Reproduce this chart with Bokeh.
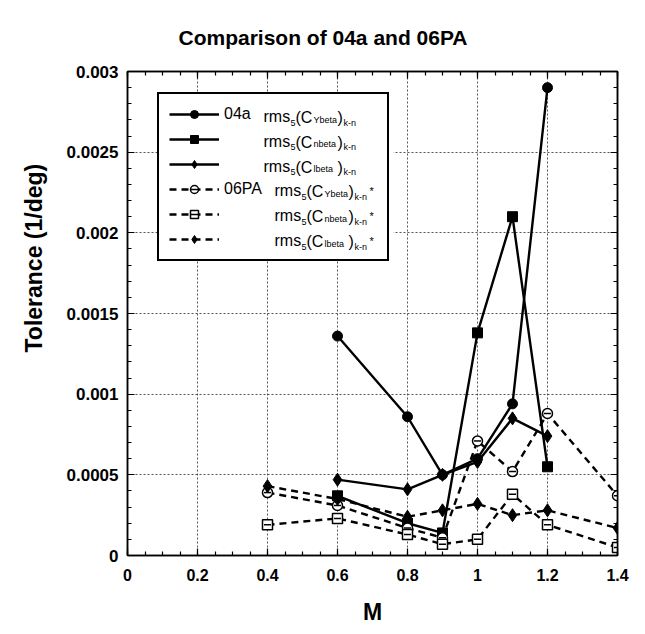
from bokeh.plotting import figure
from bokeh.models import (Range1d, FixedTicker, LinearAxis, Legend, LegendItem, Title,
                          ColumnDataSource, BoxAnnotation, CustomLabelingPolicy)
from bokeh.core.properties import value
from bokeh.embed import file_html
from bokeh.resources import INLINE

# ---------------- data ----------------
mach_04a = [0.6, 0.8, 0.9, 1.0, 1.1, 1.2]
ybeta_04a = [0.00136, 0.00086, 0.00050, 0.00060, 0.00094, 0.00290]
nbeta_04a = [0.00037, 0.00020, 0.00014, 0.00138, 0.00210, 0.00055]
lbeta_04a = [0.00047, 0.00041, 0.00050, 0.00058, 0.00085, 0.00074]

mach_06pa = [0.4, 0.6, 0.8, 0.9, 1.0, 1.1, 1.2, 1.4]
ybeta_06pa = [0.00039, 0.00031, 0.00017, 0.00011, 0.00071, 0.00052, 0.00088, 0.00037]
nbeta_06pa = [0.00019, 0.00023, 0.00013, 0.00007, 0.00010, 0.00038, 0.00019, 0.00005]
lbeta_06pa = [0.00043, 0.00035, 0.00024, 0.00028, 0.00032, 0.00025, 0.00028, 0.00017]

x_ticks = [0, 0.2, 0.4, 0.6, 0.8, 1.0, 1.2, 1.4]
x_tick_labels = ["0", "0.2", "0.4", "0.6", "0.8", "1", "1.2", "1.4"]
y_ticks = [0, 0.0005, 0.001, 0.0015, 0.002, 0.0025, 0.003]
y_tick_labels = ["0", "0.0005", "0.001", "0.0015", "0.002", "0.0025", "0.003"]

title_text = "Comparison  of 04a and 06PA"
x_label = "M"
y_label = "Tolerance  (1/deg)"
series_names = ["04a", "", "", "06PA", "", ""]
coef_subs = ["Ybeta", "nbeta", "lbeta", "Ybeta", "nbeta", "lbeta"]

# ---------------- layout ----------------
W, H = 645, 634
BL, BR, BT, BB = 127, 28, 71, 79
FW, FH = W - BL - BR, H - BT - BB
X0, X1, Y0, Y1 = 0.0, 1.4, 0.0, 0.003
FONT = "Liberation Sans"


def dx(px):
    return X0 + (px - BL) / FW * (X1 - X0)


def dy(py):
    return Y0 + (BT + FH - py) / FH * (Y1 - Y0)


p = figure(width=W, height=H, x_range=Range1d(X0, X1), y_range=Range1d(Y0, Y1),
           output_backend="svg", toolbar_location=None,
           min_border_left=BL, min_border_right=BR, min_border_top=BT, min_border_bottom=BB)
p.background_fill_color = "white"
p.border_fill_color = "white"
p.outline_line_color = "black"
p.outline_line_width = 1.5

x_minor = [round(i * 0.05, 4) for i in range(29)]
y_minor = [round(i * 0.0001, 5) for i in range(31)]
xt = FixedTicker(ticks=x_ticks, minor_ticks=x_minor)
yt = FixedTicker(ticks=y_ticks, minor_ticks=y_minor)

no_labels = CustomLabelingPolicy(code="""
const all = [...indices]
for (const i of all) indices.unset(i)
return indices
""")


def style_axis(ax, ticker, overrides, size=None):
    ax.ticker = ticker
    ax.axis_line_color = "black"
    ax.axis_line_width = 1.5
    ax.major_tick_in = 7
    ax.major_tick_out = 0
    ax.minor_tick_in = 4
    ax.minor_tick_out = 0
    ax.major_tick_line_width = 1.2
    ax.minor_tick_line_width = 1.2
    ax.major_tick_line_color = "black"
    ax.minor_tick_line_color = "black"
    if size:
        ax.major_label_overrides = overrides
        ax.major_label_text_font = FONT
        ax.major_label_text_font_style = "bold"
        ax.major_label_text_font_size = size
        ax.major_label_text_color = "black"
    else:
        ax.major_label_text_font_size = "0px"
        ax.major_label_standoff = 0
        ax.major_label_policy = no_labels


xo = {v: t for v, t in zip(x_ticks, x_tick_labels)}
yo = {v: t for v, t in zip(y_ticks, y_tick_labels)}
style_axis(p.xaxis[0], xt, xo, "16px")
style_axis(p.yaxis[0], yt, yo, "17px")
p.xaxis[0].major_label_standoff = 13
p.yaxis[0].major_label_standoff = 9
p.xaxis[0].axis_label = x_label
p.xaxis[0].axis_label_text_font = FONT
p.xaxis[0].axis_label_text_font_style = "bold"
p.xaxis[0].axis_label_text_font_size = "23px"
p.xaxis[0].axis_label_text_color = "black"
p.xaxis[0].axis_label_standoff = 15

top_ax = LinearAxis()
right_ax = LinearAxis()
style_axis(top_ax, xt, None)
style_axis(right_ax, yt, None)
p.add_layout(top_ax, "above")
p.add_layout(right_ax, "right")

for g in (p.xgrid[0], p.ygrid[0]):
    g.grid_line_color = "#555555"
    g.grid_line_dash = "2 2"
    g.grid_line_width = 1
p.xgrid[0].ticker = xt
p.ygrid[0].ticker = yt

# title
p.title.text = title_text
p.title.align = "left"
p.title.offset = 51
p.title.standoff = 46
p.title.text_font = FONT
p.title.text_font_style = "bold"
p.title.text_font_size = "21px"
p.title.text_color = "black"

# y axis title, off-centre like the reference
ytitle = Title(text=y_label, align="left", offset=203, standoff=34,
               text_font=FONT, text_font_style="bold", text_font_size="23px", text_color="black")
p.add_layout(ytitle, "left")

# legend background (under the legend's sample glyphs and its texts)
LEG_L, LEG_R, LEG_T, LEG_B = 157, 393, 93, 260
p.add_layout(BoxAnnotation(left=dx(LEG_L), right=dx(LEG_R), top=dy(LEG_T), bottom=dy(LEG_B),
                           fill_color="white", fill_alpha=1.0, line_color=None, level="underlay"))

# ---------------- series ----------------
LW = 2.4
DASH = "7 5"

l_y4 = p.line(mach_04a, ybeta_04a, line_color="black", line_width=LW)
m_y4 = p.scatter(mach_04a, ybeta_04a, marker="circle", size=10, fill_color="black", line_color="black")
l_n4 = p.line(mach_04a, nbeta_04a, line_color="black", line_width=LW)
m_n4 = p.scatter(mach_04a, nbeta_04a, marker="square", size=10, fill_color="black", line_color="black")
l_l4 = p.line(mach_04a, lbeta_04a, line_color="black", line_width=LW)
m_l4 = p.scatter(mach_04a, lbeta_04a, marker="diamond", size=13, fill_color="black", line_color="black")

l_y6 = p.line(mach_06pa, ybeta_06pa, line_color="black", line_width=LW, line_dash=DASH)
m_y6 = p.scatter(mach_06pa, ybeta_06pa, marker="circle", size=10, fill_color="white", line_color="black", line_width=1.5)
d_y6 = p.scatter(mach_06pa, ybeta_06pa, marker="dash", size=7, line_color="black", line_width=1.5)
l_n6 = p.line(mach_06pa, nbeta_06pa, line_color="black", line_width=LW, line_dash=DASH)
m_n6 = p.scatter(mach_06pa, nbeta_06pa, marker="square", size=10, fill_color="white", line_color="black", line_width=1.5)
d_n6 = p.scatter(mach_06pa, nbeta_06pa, marker="dash", size=7, line_color="black", line_width=1.5)
l_l6 = p.line(mach_06pa, lbeta_06pa, line_color="black", line_width=LW, line_dash=DASH)
m_l6 = p.scatter(mach_06pa, lbeta_06pa, marker="diamond", size=13, fill_color="black", line_color="black")

renderer_groups = [[l_y4, m_y4], [l_n4, m_n4], [l_l4, m_l4],
                   [l_y6, m_y6, d_y6], [l_n6, m_n6, d_n6], [l_l6, m_l6]]
items = [LegendItem(label=(name if name else " "), renderers=rs)
         for name, rs in zip(series_names, renderer_groups)]
legend = Legend(items=items, location=(30, 294), orientation="vertical",
                glyph_width=50, glyph_height=20, label_height=20, label_width=153,
                spacing=5, padding=10, margin=0, label_standoff=5,
                border_line_color="black", border_line_width=2.5, border_line_alpha=1.0,
                background_fill_alpha=0.0,
                label_text_font=FONT, label_text_font_size="16px", label_text_color="black")
p.add_layout(legend)

# legend coefficient texts (rms_5(C_sub)_k-n) with sub/superscripts
parts_by_size = {}
for i, sub in enumerate(coef_subs):
    base = 116 + 24.8 * i
    x0 = 263 if i < 3 else 274
    parts = [("rms", 0, "16px", 0), ("5", 27, "9px", 6), ("(C", 32, "16px", 1),
             (sub, 50, "9px", 3), (")", 74, "16px", 1), ("k-n", 80, "9px", 6)]
    if i >= 3:
        parts.append(("*", 95, "11px", 0))
    for txt, off, fs, bo in parts:
        d = parts_by_size.setdefault(fs, {"x": [], "y": [], "text": []})
        d["x"].append(dx(x0 + off))
        d["y"].append(dy(base + bo))
        d["text"].append(txt)

for fs, d in parts_by_size.items():
    p.text(x="x", y="y", text="text", source=ColumnDataSource(d), text_font=value(FONT),
           text_font_size=value(fs), text_color="black", text_align="left",
           text_baseline="alphabetic")

open("out.html", "w").write(file_html(p, INLINE))
